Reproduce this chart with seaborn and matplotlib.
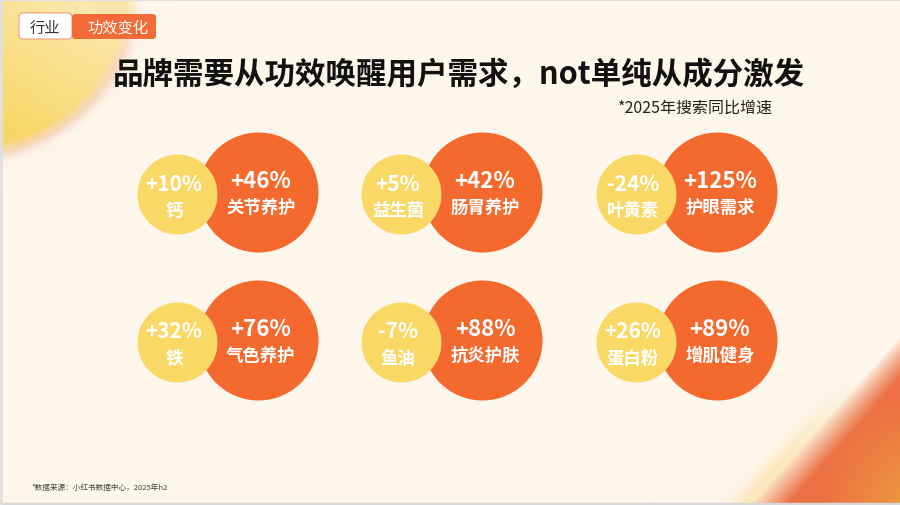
import numpy as np
import pandas as pd
import matplotlib.pyplot as plt
import seaborn as sns
from matplotlib.patches import FancyBboxPatch

# 数据：成分增速 vs 功效增速 (2025年搜索同比)
ingredients = ['钙', '益生菌', '叶黄素', '铁', '鱼油', '蛋白粉']
ingredient_growth = [10, 5, -24, 32, -7, 26]
efficacies = ['关节养护', '肠胃养护', '护眼需求', '气色养护', '抗炎护肤', '增肌健身']
efficacy_growth = [46, 42, 125, 76, 88, 89]

title = '品牌需要从功效唤醒用户需求，not单纯从成分激发'
subtitle = '*2025年搜索同比增速'
tab_labels = ['行业', '功效变化']
footnote = '*数据来源：小红书数据中心，2025年h2'

ORANGE = '#F46A2E'
YELLOW = '#FAD866'
CREAM = np.array([253, 246, 234]) / 255
W, H = 900, 506

sns.set_theme(style='white')
plt.rcParams['font.family'] = ['Noto Sans CJK SC', 'DejaVu Sans']


def blend(img, color, alpha):
    color = np.array(color) / 255
    return img * (1 - alpha[..., None]) + color * alpha[..., None]


def make_background():
    """米色底 + 左上黄色圆 + 右下橙色渐变"""
    yy, xx = np.mgrid[0:H, 0:W].astype(float)
    img = np.ones((H, W, 3)) * CREAM

    # 左上角黄色圆（边缘柔和）
    d = np.sqrt((xx + 35) ** 2 + (yy + 15) ** 2)
    inside = np.clip((175 - d) / 12, 0, 1)
    # 左下方向更饱和
    proj = np.clip((yy - 0.6 * xx + 40) / 160, 0, 1)
    a = inside * (0.5 + 0.5 * proj)
    img = blend(img, (248, 216, 105), a)
    ring = np.exp(-((d - 172) / 7) ** 2) * 0.35 * np.clip(yy / 60, 0, 1)
    img = blend(img, (240, 175, 150), ring)

    # 右下角橙色
    s = ((xx - 752) * 166 + (yy - 506) * 148) / 222
    fringe = np.exp(-((s + 6) / 12) ** 2) * 0.6 * np.clip((yy - 380) / 80, 0, 1)
    img = blend(img, (250, 222, 160), fringe)
    a2 = np.clip((s + 2) / 28, 0, 1) ** 0.8
    c = np.clip((xx - 820) / 80, 0, 1)[..., None] * np.clip((yy - 400) / 100, 0, 1)[..., None]
    deep = np.array([236, 112, 68]) / 255
    corner = np.array([238, 150, 62]) / 255
    orange = deep * (1 - c) + corner * c
    img = img * (1 - a2[..., None]) + orange * a2[..., None]
    return img


def main():
    fig = plt.figure(figsize=(9, 5.06), dpi=100)
    ax = fig.add_axes([0, 0, 1, 1])
    ax.imshow(make_background(), extent=(0, W, H, 0), zorder=0)
    ax.set_xlim(0, W)
    ax.set_ylim(H, 0)
    ax.axis('off')

    # 2行3列布局
    col_x = [258, 482, 717]
    row_y = [193, 341]
    df = pd.DataFrame({
        'ingredient': ingredients,
        'ing_growth': ingredient_growth,
        'efficacy': efficacies,
        'eff_growth': efficacy_growth,
    })
    df['ox'] = [col_x[i % 3] for i in range(len(df))]
    df['oy'] = [row_y[i // 3] for i in range(len(df))]
    df['yx'] = df['ox'] - 81
    df['yy'] = df['oy'] + 2

    r_big, r_small = 60, 40
    s_big = (2 * r_big * 0.72) ** 2
    s_small = (2 * r_small * 0.72) ** 2
    sns.scatterplot(data=df, x='ox', y='oy', s=s_big, color=ORANGE,
                    linewidth=0, ax=ax, zorder=2, legend=False)
    sns.scatterplot(data=df, x='yx', y='yy', s=s_small, color=YELLOW,
                    linewidth=0, ax=ax, zorder=3, legend=False)
    ax.set_xlim(0, W)
    ax.set_ylim(H, 0)

    for _, row in df.iterrows():
        ax.text(row['ox'] + 3, row['oy'] - 12, f"{row['eff_growth']:+d}%",
                ha='center', va='center', color='white', fontsize=16,
                fontweight='bold', zorder=4)
        ax.text(row['ox'] + 3, row['oy'] + 15, row['efficacy'],
                ha='center', va='center', color='white', fontsize=12.5,
                fontweight='bold', zorder=4)
        ax.text(row['yx'] - 3, row['yy'] - 11, f"{row['ing_growth']:+d}%",
                ha='center', va='center', color='white', fontsize=15,
                fontweight='bold', zorder=4)
        ax.text(row['yx'] - 3, row['yy'] + 16, row['ingredient'],
                ha='center', va='center', color='white', fontsize=12.5,
                fontweight='bold', zorder=4)

    # 顶部标签
    ax.add_patch(FancyBboxPatch((19, 14), 53, 26, boxstyle='round,pad=0,rounding_size=4',
                                facecolor='white', edgecolor='#F0A080', linewidth=0.8, zorder=5))
    ax.add_patch(FancyBboxPatch((72, 15), 84, 25, boxstyle='round,pad=0,rounding_size=3',
                                facecolor='#F26B38', edgecolor='none', zorder=5))
    ax.text(45, 28, tab_labels[0], ha='center', va='center', fontsize=11,
            color='#333333', zorder=6)
    ax.text(118, 28, tab_labels[1], ha='center', va='center', fontsize=11,
            color='white', zorder=6)

    # 标题
    ax.text(459, 75, title, ha='center', va='center', fontsize=22,
            fontweight='bold', color='#111111', zorder=6)
    ax.text(773, 108, subtitle, ha='right', va='center', fontsize=11.5,
            color='#222222', zorder=6)

    # 脚注
    ax.text(32, 488, footnote, ha='left', va='center', fontsize=5.5,
            color='#444444', zorder=6)

    # 边框
    ax.plot([0, W], [H - 1.5, H - 1.5], color='#D8D8D8', linewidth=2.5, zorder=7)
    ax.plot([0, W], [0.8, 0.8], color='#E0E0E0', linewidth=1.5, zorder=7)
    ax.plot([1, 1], [0, H], color='#E0E0E0', linewidth=2, zorder=7)

    fig.savefig('out.png', dpi=100)


if __name__ == '__main__':
    main()
